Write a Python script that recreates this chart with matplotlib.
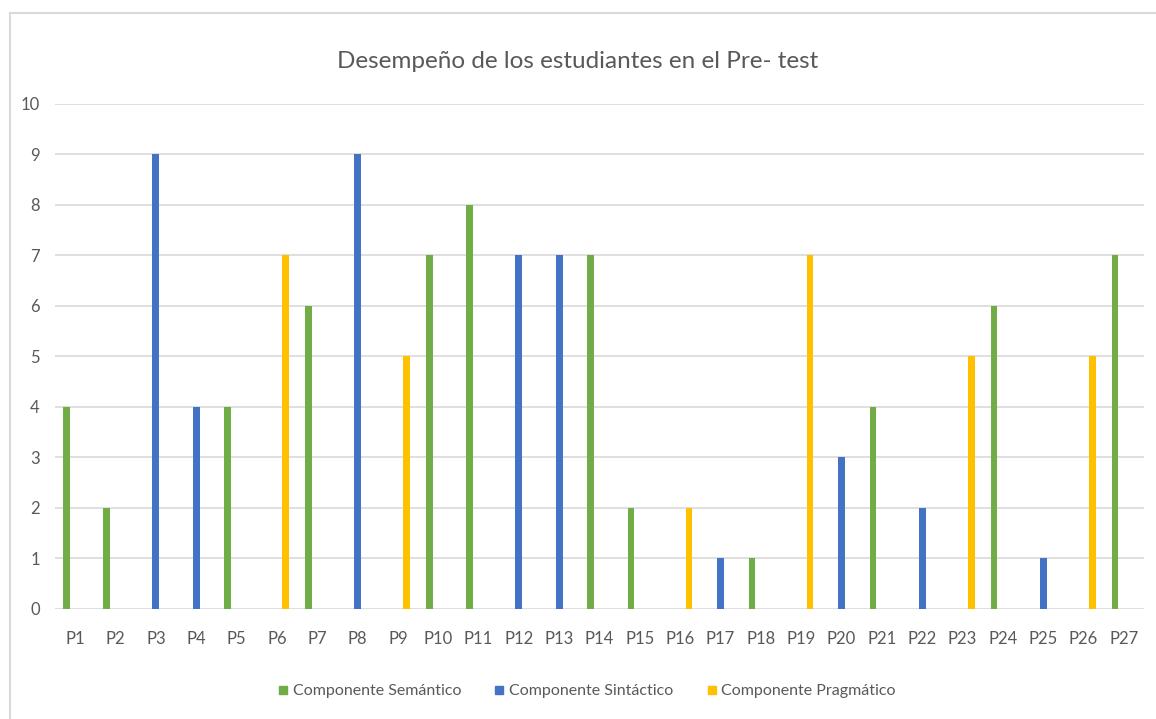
import matplotlib
matplotlib.use("Agg")

import matplotlib.pyplot as plt
import numpy as np
from matplotlib.lines import Line2D

categories = [f"P{i}" for i in range(1, 28)]

# valores por pregunta (0 = sin barra)
semantico = [4, 2, 0, 0, 4, 0, 6, 0, 0, 7, 8, 0, 0, 7, 2, 0, 0, 1, 0, 0, 4, 0, 0, 6, 0, 0, 7]
sintactico = [0, 0, 9, 4, 0, 0, 0, 9, 0, 0, 0, 7, 7, 0, 0, 0, 1, 0, 0, 3, 0, 2, 0, 0, 1, 0, 0]
pragmatico = [0, 0, 0, 0, 0, 7, 0, 0, 5, 0, 0, 0, 0, 0, 0, 2, 0, 0, 7, 0, 0, 0, 5, 0, 0, 5, 0]

series_names = ["Componente Semántico", "Componente Sintáctico", "Componente Pragmático"]
colors = ["#70AD47", "#4472C4", "#FFC000"]

plt.rcParams["font.family"] = ["Lato", "DejaVu Sans"]
text_color = "#595959"

fig = plt.figure(figsize=(11.56, 7.19), dpi=100)
ax = fig.add_axes([0.0476, 0.153, 0.942, 0.7024])

x = np.arange(len(categories))
offset = 0.22
width = 0.17
for i, (vals, name, c) in enumerate(zip([semantico, sintactico, pragmatico], series_names, colors)):
    ax.bar(x + (i - 1) * offset, vals, width=width, color=c, label=name, zorder=3)

ax.set_xlim(-0.5, len(categories) - 0.5)
ax.set_ylim(0, 10)
ax.set_yticks(range(0, 11))
ax.set_xticks(x)
ax.set_xticklabels(categories)
ax.grid(axis="y", color="#d9d9d9", linewidth=1.2, zorder=0)
ax.tick_params(axis="both", length=0, labelsize=12, colors=text_color)
ax.tick_params(axis="x", pad=16)
ax.tick_params(axis="y", pad=11)
for s in ax.spines.values():
    s.set_visible(False)

fig.text(0.5, 1 - 62 / 719, "Desempeño de los estudiantes en el Pre- test",
         ha="center", va="center", fontsize=17.5, color=text_color)

handles = [Line2D([0], [0], marker="s", linestyle="", markersize=6, color=c) for c in colors]
fig.legend(handles, series_names, loc="center", bbox_to_anchor=(0.507, 1 - 691 / 719),
           ncol=3, frameon=False, fontsize=11.5, labelcolor=text_color,
           handletextpad=0.2, handlelength=0.8, columnspacing=2.0)

# marco del gráfico
border = "#d9d9d9"
fig.add_artist(Line2D([10 / 1156, 10 / 1156], [0, 1 - 13 / 719], transform=fig.transFigure,
                      color=border, linewidth=1.5))
fig.add_artist(Line2D([10 / 1156, 1], [1 - 13 / 719, 1 - 13 / 719], transform=fig.transFigure,
                      color=border, linewidth=1.5))

fig.savefig("out.png", dpi=100)
plt.close(fig)
